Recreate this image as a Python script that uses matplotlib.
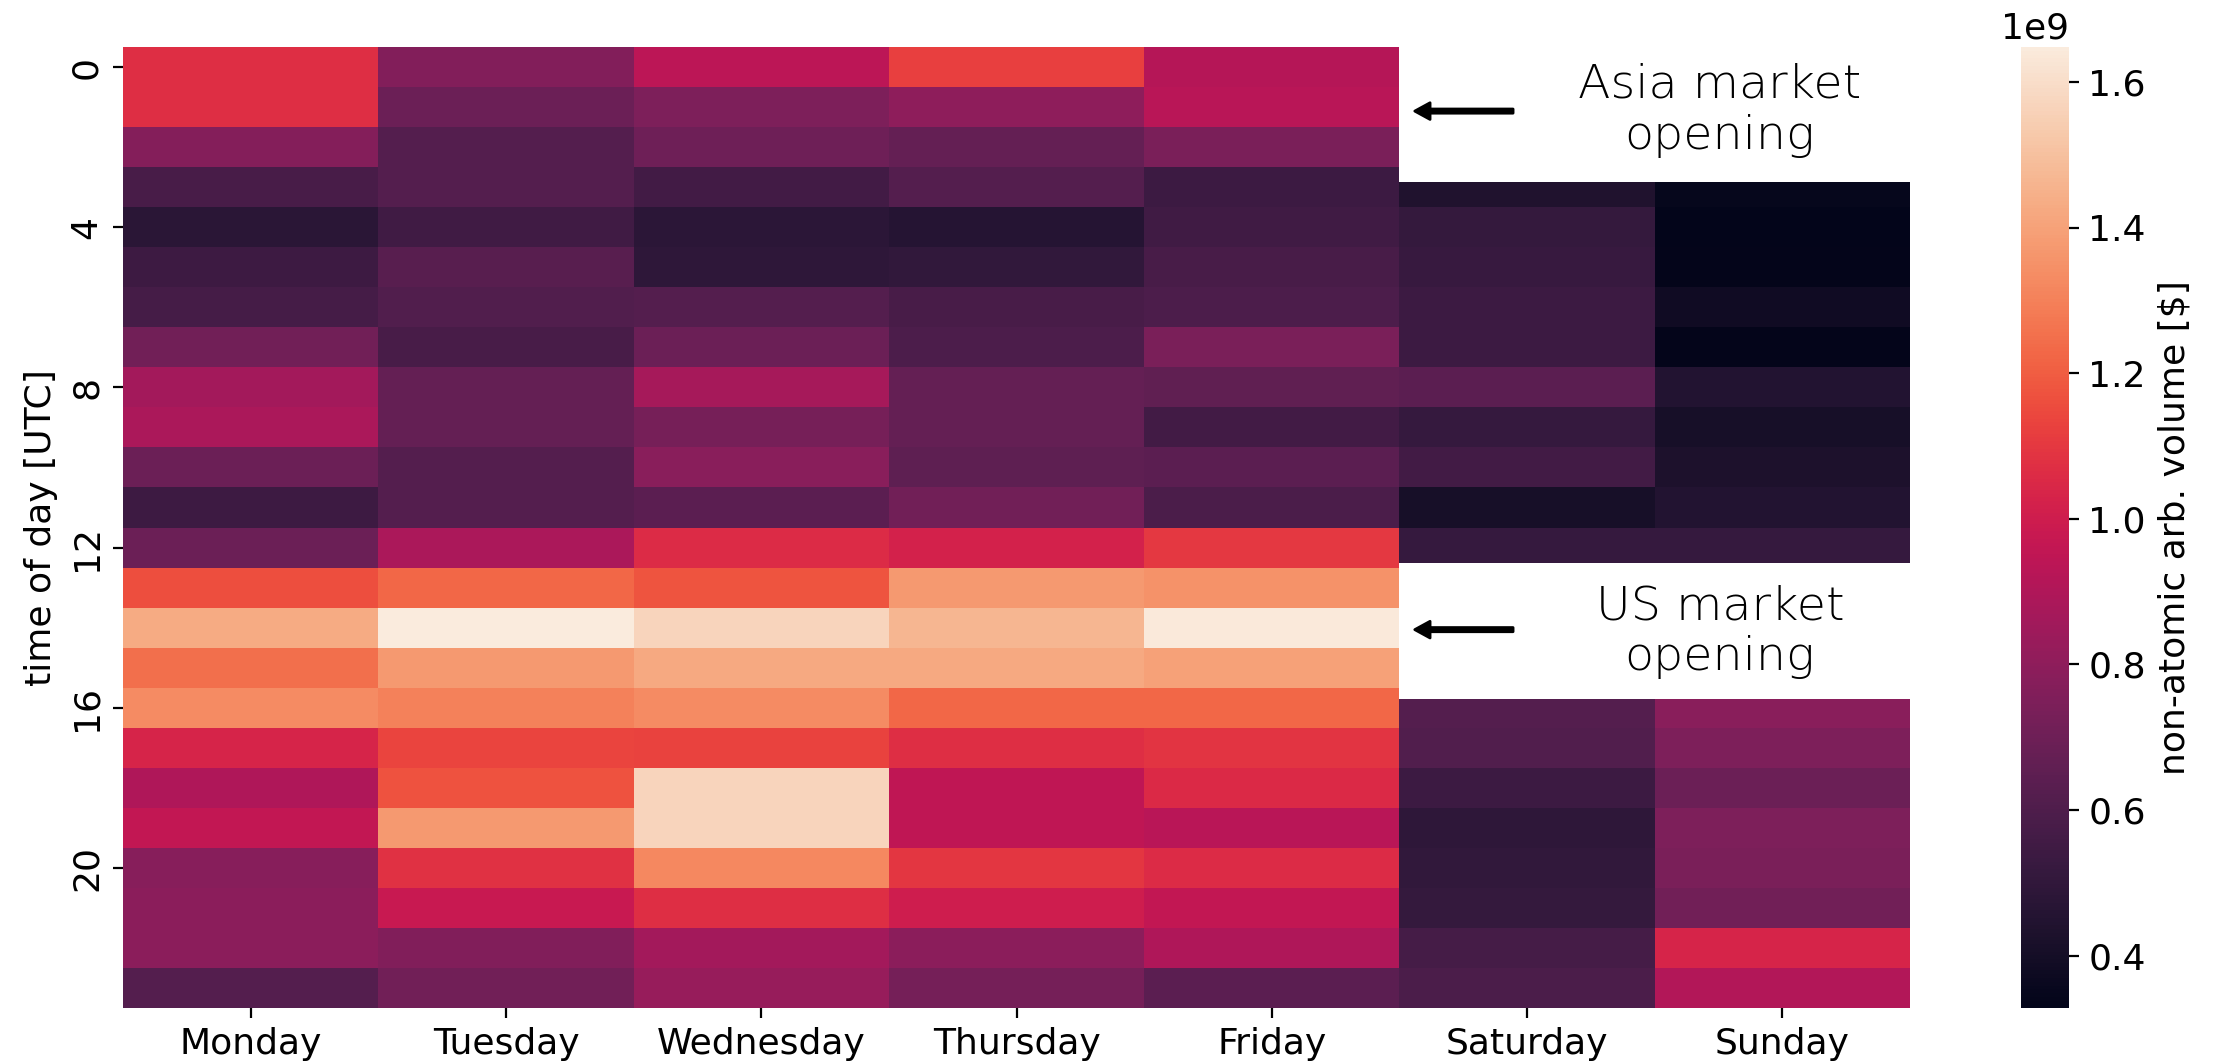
#!/usr/bin/env python3
"""
Heatmap of non-atomic arbitrage volume by weekday and hour of day (UTC),
with the Asia and US market openings marked on the weekend columns.
"""
import matplotlib
matplotlib.use("Agg")
import matplotlib.pyplot as plt
import numpy as np
import pandas as pd
import seaborn as sns
from matplotlib.patches import Rectangle

nan = np.nan

DAYS = ["Monday", "Tuesday", "Wednesday", "Thursday", "Friday", "Saturday", "Sunday"]
HOURS = list(range(24))

# volume per hour in units of 1e9 $ (weekend cells behind the labels are unknown)
MONDAY = [1.07, 1.07, 0.77, 0.58, 0.475, 0.54, 0.57, 0.71, 0.86, 0.885, 0.69, 0.54,
          0.69, 1.16, 1.43, 1.25, 1.33, 1.03, 0.90, 0.96, 0.78, 0.79, 0.79, 0.62]
TUESDAY = [0.765, 0.69, 0.62, 0.62, 0.55, 0.63, 0.61, 0.58, 0.67, 0.67, 0.62, 0.62,
           0.885, 1.23, 1.648, 1.37, 1.30, 1.135, 1.17, 1.37, 1.08, 0.98, 0.76, 0.71]
WEDNESDAY = [0.94, 0.75, 0.70, 0.555, 0.48, 0.49, 0.62, 0.69, 0.87, 0.73, 0.785, 0.64,
             1.06, 1.175, 1.57, 1.425, 1.33, 1.13, 1.57, 1.57, 1.32, 1.07, 0.86, 0.825]
THURSDAY = [1.12, 0.80, 0.67, 0.62, 0.46, 0.50, 0.58, 0.595, 0.67, 0.67, 0.65, 0.71,
            1.02, 1.37, 1.465, 1.425, 1.23, 1.07, 0.95, 0.95, 1.095, 1.00, 0.79, 0.72]
FRIDAY = [0.92, 0.93, 0.74, 0.535, 0.55, 0.58, 0.595, 0.74, 0.655, 0.555, 0.64, 0.59,
          1.10, 1.35, 1.64, 1.40, 1.23, 1.09, 1.055, 0.93, 1.06, 0.96, 0.90, 0.64]
SATURDAY = [nan, nan, nan, 0.44, 0.51, 0.52, 0.535, 0.535, 0.64, 0.515, 0.555, 0.41,
            0.515, nan, nan, nan, 0.62, 0.61, 0.535, 0.49, 0.50, 0.51, 0.57, 0.59]
SUNDAY = [nan, nan, nan, 0.345, 0.328, 0.335, 0.38, 0.335, 0.45, 0.41, 0.43, 0.45,
          0.515, nan, nan, nan, 0.785, 0.75, 0.69, 0.75, 0.74, 0.71, 1.03, 0.91]

# (label, first row covered, rows covered, arrow row, text row)
MARKETS = [
    ("Asia market\nopening", -0.2, 3.57, 1.6, 1.58),
    ("US market\nopening", 12.89, 3.39, 14.55, 14.6),
]


def main():
    plt.rcParams["font.family"] = "DejaVu Sans"
    plt.rcParams["font.size"] = 13

    volumes = np.array([MONDAY, TUESDAY, WEDNESDAY, THURSDAY, FRIDAY,
                        SATURDAY, SUNDAY]).T * 1e9
    df = pd.DataFrame(volumes, index=HOURS, columns=DAYS)

    fig = plt.figure(figsize=(2213 / 200, 1064 / 200), dpi=200)
    ax = fig.add_axes([0.0556, 0.0526, 0.8075, 0.9032])
    cax = fig.add_axes([0.9132, 0.0526, 0.0217, 0.9032])

    sns.heatmap(df, ax=ax, cbar_ax=cax, cmap="rocket", yticklabels=4,
                cbar_kws={"label": "non-atomic arb. volume [$]"})
    ax.set_ylabel("time of day [UTC]")
    ax.tick_params(axis="x", rotation=0)

    # white boxes over the weekend columns with the market notes
    for label, y0, height, y_arrow, y_text in MARKETS:
        ax.add_patch(Rectangle((5, y0), 2, height, facecolor="white",
                               edgecolor="none", zorder=3, clip_on=False))
        ax.annotate("", xy=(5.06, y_arrow), xytext=(5.445, y_arrow),
                    arrowprops=dict(facecolor="black", edgecolor="black",
                                    width=1.5, headwidth=6, headlength=5.5,
                                    shrink=0),
                    zorder=4)
        ax.text(6.255, y_text, label, ha="center", va="center",
                multialignment="center", fontsize=17.1, fontweight=200,
                family="DejaVu Sans", zorder=4)

    fig.savefig("out.png", dpi=200)
    plt.close(fig)


if __name__ == "__main__":
    main()
